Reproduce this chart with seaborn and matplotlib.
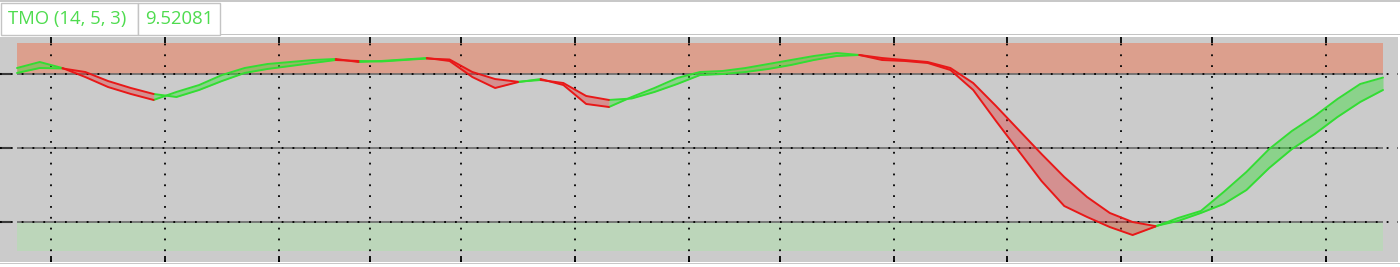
import numpy as np
import pandas as pd
import matplotlib
matplotlib.use("Agg")
import matplotlib.pyplot as plt
from matplotlib.patches import Rectangle
import seaborn as sns

# ---------------- data ----------------
title_label = "TMO (14, 5, 3)"
value_label = "9.52081"

bars = np.arange(61)
tmo_main = [10.81, 11.62, 10.80, 9.59, 8.24, 7.30, 6.49, 7.57, 8.51, 9.86,
            10.81, 11.35, 11.62, 11.89, 12.03, 11.62, 11.76, 11.96, 12.16, 11.76,
            9.59, 8.11, 8.90, 9.32, 8.51, 5.95, 5.54, 6.89, 8.11, 9.46,
            10.27, 10.41, 10.81, 11.35, 11.89, 12.43, 12.84, 12.57, 11.89, 11.76,
            11.49, 10.54, 7.84, 3.65, -0.41, -4.46, -7.84, -9.32, -10.68, -11.76,
            -10.62, -9.46, -8.51, -5.95, -3.24, -0.14, 2.30, 4.32, 6.62, 8.65,
            9.52]
tmo_signal = [10.14, 10.81, 10.75, 10.27, 9.05, 8.11, 7.30, 6.89, 7.84, 9.05,
              10.14, 10.68, 11.08, 11.49, 11.89, 11.76, 11.69, 11.89, 12.09, 11.96,
              10.27, 9.32, 8.95, 9.19, 8.78, 7.03, 6.49, 6.69, 7.57, 8.65,
              9.86, 10.00, 10.27, 10.68, 11.22, 11.89, 12.43, 12.57, 12.16, 11.89,
              11.62, 10.81, 8.78, 5.68, 2.43, -0.81, -3.92, -6.62, -8.78, -10.00,
              -10.55, -9.86, -8.78, -7.57, -5.68, -2.70, -0.14, 1.89, 4.19, 6.22,
              7.84]
levels = [10, 0, -10]
ob_band = (10, 14.2)
os_band = (-10, -13.9)
grid_x = [1.5, 6.5, 11.5, 15.5, 19.5, 24.5, 29.5, 33.5, 38.5, 43.5, 48.5, 52.5, 57.5]

# ---------------- style ----------------
sns.set_theme(style="white")
plt.rcParams["font.family"] = ["Open Sans", "DejaVu Sans"]

GREEN = "#33dd33"
RED = "#e81818"
BG = "#cbcbcb"

W, H = 1400, 267
fig = plt.figure(figsize=(W / 100, H / 100), dpi=100, facecolor="white")

# axes: pixel box x 0..1398, y 37..262 (from top)
ax = fig.add_axes([0, (H - 262) / H, 1398 / W, (262 - 37) / H])
ax.set_facecolor(BG)

main = np.array(tmo_main)
sig = np.array(tmo_signal)
x = bars.astype(float)

pxbar = 1366 / 60.0
ax.set_xlim(-17 / pxbar, (1398 - 17) / pxbar)
ax.set_ylim((148 - 262) / 7.4, (148 - 37) / 7.4)

# bands
ax.fill_between([x[0], x[-1]], ob_band[0], ob_band[1], color="#dc9f8d", lw=0, zorder=1)
ax.fill_between([x[0], x[-1]], os_band[0], os_band[1], color="#bcd6ba", lw=0, zorder=1)

# level lines (solid) and dotted grid
ax.hlines(levels, x[0], x[-1], color="#6a6a6a", lw=1.2, zorder=1.2)
for lv in levels:
    ax.axhline(lv, color="black", lw=1.3, linestyle=(0, (1, 5)), zorder=1.6)
for gx in grid_x:
    ax.axvline(gx, color="black", lw=1.3, linestyle=(0, (1, 5)), zorder=1.6)

# ---------------- coloured runs ----------------
state = main >= sig
seg_state = state[1:]  # segment k -> k+1 coloured by end state
runs = []
start = 0
for k in range(1, len(seg_state) + 1):
    if k == len(seg_state) or seg_state[k] != seg_state[start]:
        runs.append((start, k, bool(seg_state[start])))
        start = k

rows = []
for r, (k0, k1, up) in enumerate(runs):
    idx = np.arange(k0, k1 + 1)
    c = "up" if up else "down"
    for i in idx:
        rows.append(dict(bar=x[i], value=main[i], unit=f"m{r}", col=c))
        rows.append(dict(bar=x[i], value=sig[i], unit=f"s{r}", col=c))
    ax.fill_between(x[idx], main[idx], sig[idx], color=GREEN if up else RED,
                    alpha=0.42 if up else 0.33, lw=0, zorder=2)
df = pd.DataFrame(rows)

sns.lineplot(data=df, x="bar", y="value", hue="col", units="unit", estimator=None,
             palette={"up": GREEN, "down": RED}, linewidth=1.4, legend=False,
             sort=False, ax=ax, zorder=3)

# ticks
ax.set_xticks(grid_x)
ax.set_yticks(levels)
ax.tick_params(axis="x", which="both", direction="in", length=4, width=1.3,
               color="black", top=True, bottom=True, labelbottom=False, labeltop=False)
ax.tick_params(axis="y", which="both", direction="in", length=8, width=1.5,
               color="#3a3a3a", left=True, labelleft=False)
ax.set_xlabel("")
ax.set_ylabel("")
for s in ax.spines.values():
    s.set_visible(False)
ax.grid(False)

# ---------------- header ----------------
def px_rect(x0, y0, x1, y1, **kw):
    fig.add_artist(Rectangle((x0 / W, 1 - y1 / H), (x1 - x0) / W, (y1 - y0) / H,
                             transform=fig.transFigure, **kw))

px_rect(0, 0, W, 2, facecolor="#c8c8c8", edgecolor="none")
px_rect(0.5, 3, 138, 35, facecolor="white", edgecolor="#c4c4c4", lw=1)
px_rect(138, 3, 220, 35, facecolor="white", edgecolor="#c4c4c4", lw=1)
px_rect(220, 34, W, 35, facecolor="#c4c4c4", edgecolor="none")
px_rect(0, 263, W, 264, facecolor="#c8c8c8", edgecolor="none")

fig.text(8 / W, 1 - 19 / H, title_label, color="#4fdc4f", fontsize=13.3,
         va="center", ha="left")
fig.text(145 / W, 1 - 19 / H, value_label, color="#4fdc4f", fontsize=13.3,
         va="center", ha="left")

fig.savefig("out.png", dpi=100, facecolor="white")
